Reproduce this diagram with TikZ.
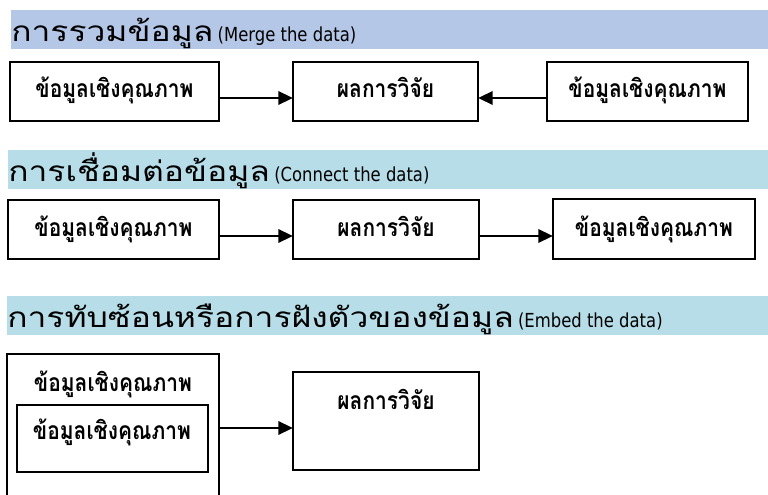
\documentclass[tikz,border=0pt]{standalone}
\usepackage{fontspec}
\setmainfont{DejaVu Sans}
\newfontfamily\thaifont[Script=Thai,FakeStretch=1.2]{Loma}
\newfontfamily\thaibox[Script=Thai,FakeStretch=0.85]{Loma}
\newfontfamily\latfont[FakeStretch=0.85]{DejaVu Sans}
\usetikzlibrary{arrows.meta,fit}
\definecolor{hdrA}{HTML}{B4C7E7}
\definecolor{hdrB}{HTML}{B7DEE8}
\tikzset{
  box/.style={draw=black, line width=1.1pt, fill=white, inner sep=0pt},
  lbl/.style={font=\thaibox\bfseries\fontsize{18.5pt}{20pt}\selectfont, inner sep=0pt, anchor=base},
  hdr/.style={inner sep=0pt, anchor=base west},
  conn/.style={line width=1.8pt, -{Triangle[length=11pt,width=10pt]}, shorten >=-0.5pt},
}
\newcommand\hdrtext[2]{{\thaifont\fontsize{21pt}{24pt}\selectfont #1}\ {\latfont\fontsize{14.5pt}{17pt}\selectfont #2}}
\begin{document}
\begin{tikzpicture}[x=0.75pt,y=-0.75pt]
\clip (0,0) rectangle (768,495);
\useasboundingbox (0,0) rectangle (768,495);
\fill[white] (0,0) rectangle (768,495);
% headers
\fill[hdrA] (11,10) rectangle (768,49);
\node[hdr] (h1) at (11,42) {\hdrtext{การรวมข้อมูล}{(Merge the data)}};
\fill[hdrB] (8,150) rectangle (768,189);
\node[hdr] (h2) at (8,182) {\hdrtext{การเชื่อมต่อข้อมูล}{(Connect the data)}};
\fill[hdrB] (7,296) rectangle (768,335);
\node[hdr] (h3) at (7,328) {\hdrtext{การทับซ้อนหรือการฝังตัวของข้อมูล}{(Embed the data)}};
% row 1
\node[box, fit={(10,62) (219,121)}] (a1) {};
\node[box, fit={(293,62) (478,121)}] (a2) {};
\node[box, fit={(547,62) (748,121)}] (a3) {};
\node[lbl] (a1t) at (114.5,98) {ข้อมูลเชิงคุณภาพ};
\node[lbl] (a2t) at (385.5,98) {ผลการวิจัย};
\node[lbl] (a3t) at (647.5,98) {ข้อมูลเชิงคุณภาพ};
\draw[conn] (a1.east |- 0,98) coordinate (p1) -- (p1 -| a2.west);
\draw[conn] (a3.west |- 0,98) coordinate (p2) -- (p2 -| a2.east);
% row 2
\node[box, fit={(8,200) (219,259)}] (b1) {};
\node[box, fit={(293,200) (479,259)}] (b2) {};
\node[box, fit={(553,199) (755,259)}] (b3) {};
\node[lbl] (b1t) at (113.5,237) {ข้อมูลเชิงคุณภาพ};
\node[lbl] (b2t) at (386,237) {ผลการวิจัย};
\node[lbl] (b3t) at (654,237) {ข้อมูลเชิงคุณภาพ};
\draw[conn] (b1.east |- 0,236) coordinate (q1) -- (q1 -| b2.west);
\draw[conn] (b2.east |- 0,236) coordinate (q2) -- (q2 -| b3.west);
% row 3
\node[box, fit={(7,354) (219,520)}] (c1) {};
\node[box, fit={(17,405) (208,472)}] (c2) {};
\node[box, fit={(293,372) (479,470)}] (c3) {};
\node[lbl] (c1t) at (113,392) {ข้อมูลเชิงคุณภาพ};
\node[lbl] (c2t) at (112,440) {ข้อมูลเชิงคุณภาพ};
\node[lbl] (c3t) at (386,410) {ผลการวิจัย};
\draw[conn] (c1.east |- 0,428) coordinate (r1) -- (r1 -| c3.west);
\end{tikzpicture}
\end{document}
